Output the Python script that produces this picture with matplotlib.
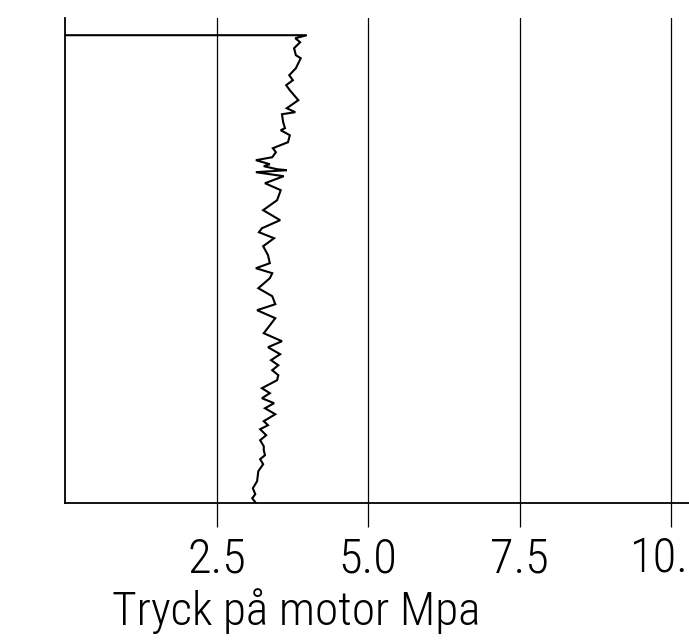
import matplotlib
matplotlib.use("Agg")
import matplotlib.pyplot as plt

# ---- data (pressure in MPa vs depth, depth increases downward) ----
pressure = [0.00, 3.99, 3.80, 3.88, 3.78, 3.81, 3.89, 3.85, 3.81, 3.70, 3.76, 3.65, 3.71,
            3.78, 3.85, 3.66, 3.80, 3.58, 3.60, 3.63, 3.56, 3.71, 3.68, 3.43, 3.48,
            3.42, 3.15, 3.38, 3.28, 3.50, 3.66, 3.15, 3.61, 3.30, 3.56, 3.50, 3.27,
            3.55, 3.25, 3.20, 3.45, 3.27, 3.35, 3.38, 3.15, 3.42, 3.38, 3.19, 3.42,
            3.47, 3.22, 3.17, 3.47, 3.28, 3.58, 3.35, 3.55, 3.40, 3.52, 3.42, 3.52,
            3.50, 3.25, 3.38, 3.25, 3.45, 3.30, 3.47, 3.28, 3.35, 3.22, 3.32, 3.22,
            3.28, 3.28, 3.30, 3.22, 3.27, 3.19, 3.17, 3.10, 3.14, 3.09, 3.14]
depth = [0.00, 0.00, 0.65, 1.51, 2.80, 4.30, 4.95, 6.02, 7.10, 8.60, 9.68, 10.75, 11.83,
         12.90, 13.98, 15.70, 16.56, 16.99, 18.71, 20.00, 20.43, 21.51, 23.01, 24.30, 25.16,
         26.24, 26.88, 27.74, 28.17, 28.82, 29.03, 29.46, 30.32, 31.83, 33.33, 35.48, 37.63,
         39.78, 41.51, 42.37, 43.66, 45.38, 47.31, 49.03, 50.11, 51.18, 52.26, 54.41, 56.13,
         57.85, 58.92, 59.14, 60.86, 64.09, 65.81, 67.10, 68.60, 69.89, 70.97, 72.04, 73.12,
         74.19, 75.91, 76.99, 78.06, 79.14, 80.22, 81.51, 83.01, 83.87, 84.73, 86.02, 87.10,
         88.39, 89.25, 90.32, 91.18, 92.26, 93.76, 95.91, 97.42, 98.71, 99.57, 100.43]
xticks = [2.5, 5.0, 7.5, 10.0]
xticklabels = ["2.5", "5.0", "7.5", "10.0"]
xlabel = "Tryck på motor Mpa"

fam = ["Roboto Condensed", "Liberation Sans Narrow", "DejaVu Sans"]
fstyle = dict(family=fam, fontweight="light", fontstretch="condensed")

fig = plt.figure(figsize=(6.89, 6.40), dpi=100)
ax = fig.add_axes([65 / 689, 137 / 640, 666.6 / 689, 485 / 640])
ax.plot(pressure, depth, color="black", lw=1.5, solid_joinstyle="miter")
ax.set_xlim(0, 11)
ax.set_ylim(100.6, -3.7)

for s in ["top", "right"]:
    ax.spines[s].set_visible(False)
for s in ["left", "bottom"]:
    ax.spines[s].set_linewidth(1.3)

ax.set_xticks(xticks)
ax.set_xticklabels(xticklabels, fontsize=35, **fstyle)
ax.tick_params(axis="x", direction="out", length=17, width=0.9, pad=7)
ax.set_yticks([])
ax.grid(axis="x", color="black", lw=0.9)

fig.text(112 / 689, 1 - 625 / 640, xlabel, fontsize=34,
         ha="left", va="baseline", **fstyle)

fig.savefig("out.png", dpi=100)
